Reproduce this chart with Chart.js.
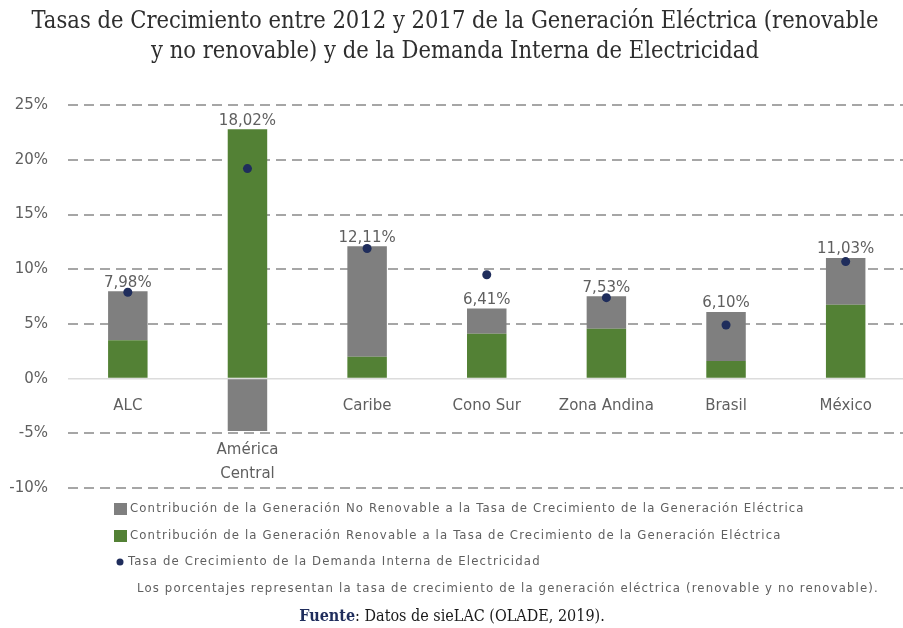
<!DOCTYPE html>
<html>
<head>
<meta charset="utf-8">
<script src="https://cdn.jsdelivr.net/npm/chart.js@4.4.1/dist/chart.umd.min.js"></script>
<style>
  html, body { margin: 0; padding: 0; background: #fff; overflow: hidden; }
  #wrap { position: absolute; left: 0; top: 0; width: 910px; height: 628px; }
</style>
</head>
<body>
<div id="wrap"><canvas id="growth-chart"></canvas></div>
<script>
const categories = ["ALC", ["América", "Central"], "Caribe", "Cono Sur", "Zona Andina", "Brasil", "México"];
const renewable = [3.5, 22.8, 2.0, 4.1, 4.55, 1.6, 6.75];
const nonRenewable = [4.48, -4.78, 10.11, 2.31, 2.98, 4.5, 4.28];
const totals = [7.98, 18.02, 12.11, 6.41, 7.53, 6.10, 11.03];
const demand = [7.9, 19.2, 11.9, 9.5, 7.4, 4.9, 10.7];
const yTicks = [-10, -5, 0, 5, 10, 15, 20, 25];

const greyColor = "#7f7f7f";
const greenColor = "#538135";
const dotColor = "#1f2d5c";
const textColor = "#5f5f5f";
const note = "Los porcentajes representan la tasa de crecimiento de la generación eléctrica (renovable y no renovable).";

// labels above bars, category names under the zero line, legend and source
const annotate = {
    id: "annotate",
    afterDatasetsDraw(chart) {
        const ctx = chart.ctx;
        const x = chart.scales.x;
        const y = chart.scales.y;
        ctx.save();
        ctx.fillStyle = textColor;
        ctx.font = "15px 'DejaVu Sans'";
        ctx.textAlign = "center";
        categories.forEach((cat, i) => {
            const cx = x.getPixelForValue(i);
            const pos = Math.max(renewable[i], 0) + Math.max(nonRenewable[i], 0);
            const neg = Math.min(renewable[i], 0) + Math.min(nonRenewable[i], 0);
            ctx.textBaseline = "bottom";
            ctx.fillText(totals[i].toFixed(2).replace(".", ",") + "%", cx, y.getPixelForValue(pos) - 1);
            const lines = Array.isArray(cat) ? cat : [cat];
            let ly = neg < 0 ? y.getPixelForValue(neg) + 19 : y.getPixelForValue(0) + 27;
            ctx.textBaseline = "middle";
            lines.forEach((l) => {
                ctx.fillText(l, cx, ly);
                ly += 24;
            });
        });
        ctx.restore();
    },
    afterDraw(chart) {
        const ctx = chart.ctx;
        const ds = chart.data.datasets;
        ctx.save();
        ctx.font = "13px 'DejaVu Sans Condensed'";
        ctx.letterSpacing = "1.15px";
        ctx.fillStyle = textColor;
        ctx.textBaseline = "middle";
        ctx.textAlign = "left";
        // grey, green, dot
        const rows = [
            { label: ds[2].label, color: greyColor, y: 509 },
            { label: ds[1].label, color: greenColor, y: 536 },
        ];
        rows.forEach((r) => {
            ctx.fillStyle = r.color;
            ctx.fillRect(114, r.y - 6, 13, 12);
            ctx.fillStyle = textColor;
            ctx.fillText(r.label, 130, r.y);
        });
        ctx.fillStyle = dotColor;
        ctx.beginPath();
        ctx.arc(120, 562, 3.5, 0, Math.PI * 2);
        ctx.fill();
        ctx.fillStyle = textColor;
        ctx.fillText(ds[0].label, 128, 562);
        ctx.fillText(note, 137, 589);

        ctx.letterSpacing = "0px";
        ctx.textAlign = "left";
        const a = "Fuente";
        const b = ": Datos de sieLAC (OLADE, 2019).";
        ctx.font = "bold 16px 'DejaVu Serif Condensed'";
        const wa = ctx.measureText(a).width;
        ctx.font = "16px 'DejaVu Serif Condensed'";
        const wb = ctx.measureText(b).width;
        const sx = 452 - (wa + wb) / 2;
        ctx.font = "bold 16px 'DejaVu Serif Condensed'";
        ctx.fillStyle = "#1f2d5c";
        ctx.fillText(a, sx, 617);
        ctx.font = "16px 'DejaVu Serif Condensed'";
        ctx.fillStyle = "#1a1a1a";
        ctx.fillText(b, sx + wa, 617);
        ctx.restore();
    },
};

new Chart(document.getElementById("growth-chart"), {
    type: "bar",
    data: {
        labels: categories,
        datasets: [
            {
                type: "line",
                label: "Tasa de Crecimiento de la Demanda Interna de Electricidad",
                data: demand,
                yAxisID: "y2",
                showLine: false,
                pointRadius: 4.5,
                pointBackgroundColor: dotColor,
                pointBorderWidth: 0,
                order: 0,
            },
            {
                label: "Contribución de la Generación Renovable a la Tasa de Crecimiento de la Generación Eléctrica",
                data: renewable,
                backgroundColor: greenColor,
                barPercentage: 0.33,
                categoryPercentage: 1,
                order: 1,
            },
            {
                label: "Contribución de la Generación No Renovable a la Tasa de Crecimiento de la Generación Eléctrica",
                data: nonRenewable,
                backgroundColor: greyColor,
                barPercentage: 0.33,
                categoryPercentage: 1,
                order: 1,
            },
        ],
    },
    options: {
        responsive: true,
        maintainAspectRatio: false,
        animation: false,
        layout: { padding: { left: 0, right: 0, top: 0, bottom: 140 } },
        plugins: {
            legend: { display: false },
            tooltip: { enabled: false },
            title: {
                display: true,
                text: [
                    "Tasas de Crecimiento entre 2012 y 2017 de la Generación Eléctrica (renovable",
                    "y no renovable) y de la Demanda Interna de Electricidad",
                ],
                color: "#2e2e2e",
                font: { family: "'DejaVu Serif Condensed'", size: 23.5, weight: "normal", lineHeight: 1.28 },
                padding: { top: 7, bottom: 38 },
            },
        },
        scales: {
            x: {
                stacked: true,
                display: false,
            },
            y: {
                stacked: true,
                min: -10,
                max: 25,
                afterBuildTicks: (scale) => {
                    scale.ticks = yTicks.map((v) => ({ value: v }));
                },
                afterFit: (scale) => {
                    scale.width = 68;
                },
                ticks: {
                    color: textColor,
                    font: { family: "'DejaVu Sans'", size: 15 },
                    padding: 20,
                    callback: (v) => v + "%",
                },
                grid: {
                    drawTicks: false,
                    color: (c) => (c.tick && c.tick.value === 0 ? "#dcdcdc" : "#a6a6a6"),
                    lineWidth: (c) => (c.tick && c.tick.value === 0 ? 1.5 : 2),
                },
                border: {
                    display: false,
                    dash: (c) => (c.tick && c.tick.value === 0 ? [] : [10, 6]),
                },
            },
            y2: {
                display: false,
                min: -10,
                max: 25,
            },
        },
    },
    plugins: [annotate],
});
</script>
</body>
</html>
